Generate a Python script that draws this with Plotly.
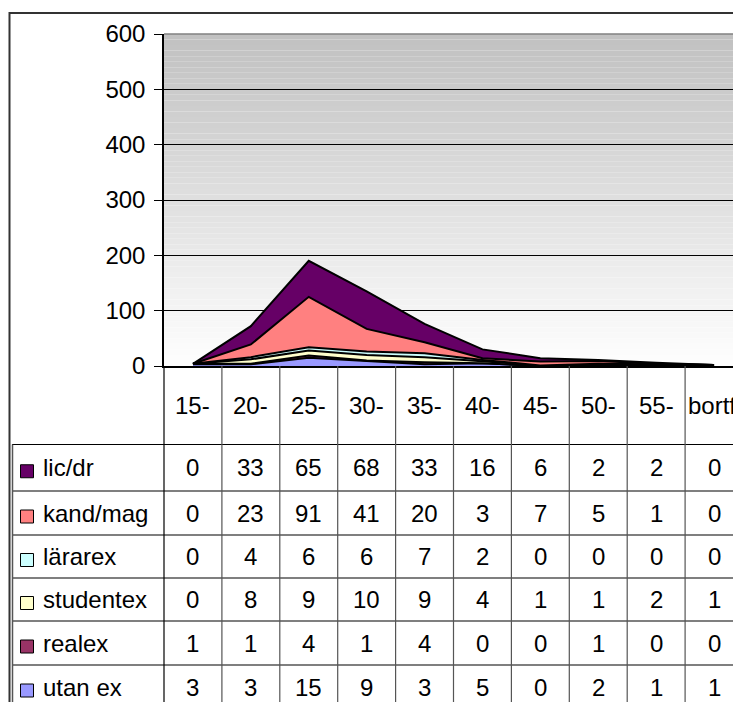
import plotly.graph_objects as go

categories = ["15-", "20-", "25-", "30-", "35-", "40-", "45-", "50-", "55-", "bortf"]

# table order (top to bottom)
series_names = ["lic/dr", "kand/mag", "lärarex", "studentex", "realex", "utan ex"]
lic_dr    = [0, 33, 65, 68, 33, 16, 6, 2, 2, 0]
kand_mag  = [0, 23, 91, 41, 20, 3, 7, 5, 1, 0]
lararex   = [0, 4, 6, 6, 7, 2, 0, 0, 0, 0]
studentex = [0, 8, 9, 10, 9, 4, 1, 1, 2, 1]
realex    = [1, 1, 4, 1, 4, 0, 0, 1, 0, 0]
utan_ex   = [3, 3, 15, 9, 3, 5, 0, 2, 1, 1]
series_values = [lic_dr, kand_mag, lararex, studentex, realex, utan_ex]
series_colors = ["#660066", "#FF8080", "#CCFFFF", "#FFFFCC", "#993366", "#9999FF"]

y_ticks = [0, 100, 200, 300, 400, 500, 600]

# page body has an 8px margin; figure is sized to fill the rest of the window
OFF = 8
W, H = 741 - OFF, 702 - OFF
def px(x):
    return (x - OFF) / W
def py(y):
    return 1 - (y - OFF) / H

FONT = "Liberation Sans, Arial, sans-serif"
FS = 24

plot_left, plot_top, plot_bottom = 164, 34, 366
right_edge = 741
colw = 57.9
xr0 = -0.5
xr1 = -0.5 + (right_edge - plot_left) / colw

fig = go.Figure()

# stacked areas: bottom series first
for name, vals, col in reversed(list(zip(series_names, series_values, series_colors))):
    fig.add_trace(go.Scatter(
        x=categories, y=vals, name=name, stackgroup="one", mode="lines",
        line=dict(color="black", width=2), fillcolor=col, hoverinfo="skip",
    ))

shapes = []
# gradient background in plot area
nb = 60
for i in range(nb):
    y0 = plot_top + (plot_bottom - plot_top) * i / nb
    y1 = plot_top + (plot_bottom - plot_top) * (i + 1) / nb
    t = (i + 0.5) / nb
    v = int(round(0xC0 + (0xFF - 0xC0) * t))
    c = f"rgb({v},{v},{v})"
    shapes.append(dict(type="rect", xref="paper", yref="paper",
                       x0=px(plot_left), x1=1, y0=py(y1), y1=py(y0),
                       fillcolor=c, line=dict(width=0), layer="below"))

# top border of plot area
shapes.append(dict(type="line", xref="paper", yref="paper", x0=px(plot_left), x1=1,
                   y0=py(plot_top), y1=py(plot_top), line=dict(color="#808080", width=1.5)))

# outer border
shapes.append(dict(type="rect", xref="paper", yref="paper", x0=px(9.5), x1=px(740),
                   y0=py(712), y1=py(13), line=dict(color="#333333", width=2)))

# table
row_lines = [444.5, 491, 535, 578, 621, 665]
row_bottom_ext = 709
for yl in row_lines:
    shapes.append(dict(type="line", xref="paper", yref="paper", x0=px(12), x1=1,
                       y0=py(yl), y1=py(yl), line=dict(color="black", width=1.2)))
# inner left border of table rows
shapes.append(dict(type="line", xref="paper", yref="paper", x0=px(12.5), x1=px(12.5),
                   y0=py(444.5), y1=py(712), line=dict(color="#555555", width=1.5)))
# vertical column lines
for i in range(len(categories) + 1):
    xp = plot_left + i * colw
    if xp > right_edge:
        continue
    shapes.append(dict(type="line", xref="paper", yref="paper", x0=px(xp), x1=px(xp),
                       y0=py(plot_bottom), y1=py(712),
                       line=dict(color="#555555" if i else "black", width=1.2)))

annotations = []
# header row
header_y = (plot_bottom + row_lines[0]) / 2
for k, c in enumerate(categories):
    last = k == len(categories) - 1
    annotations.append(dict(x=c, xref="x", y=py(header_y), yref="paper", text=c,
                            showarrow=False, xanchor="left" if last else "center",
                            xshift=-colw / 2 + 1 if last else 0, yanchor="middle",
                            font=dict(family=FONT, size=FS, color="black")))
row_edges = row_lines + [row_bottom_ext]
for r, (name, vals, col) in enumerate(zip(series_names, series_values, series_colors)):
    yc = (row_edges[r] + row_edges[r + 1]) / 2
    # legend key
    shapes.append(dict(type="rect", xref="paper", yref="paper",
                       x0=px(20.5), x1=px(33.5), y0=py(yc + 10), y1=py(yc - 3),
                       fillcolor=col, line=dict(color="black", width=1)))
    annotations.append(dict(x=px(41), xref="paper", y=py(yc), yref="paper", text=name,
                            showarrow=False, xanchor="left", yanchor="middle",
                            font=dict(family=FONT, size=FS, color="black")))
    for c, v in zip(categories, vals):
        annotations.append(dict(x=c, xref="x", y=py(yc), yref="paper", text=str(v),
                                showarrow=False, xanchor="center", yanchor="middle",
                                font=dict(family=FONT, size=FS, color="black")))

fig.update_layout(
    width=W, height=H,
    margin=dict(l=0, r=0, t=0, b=0, autoexpand=False),
    paper_bgcolor="white", plot_bgcolor="rgba(0,0,0,0)",
    showlegend=False,
    shapes=shapes, annotations=annotations,
    font=dict(family=FONT, size=FS, color="black"),
    xaxis=dict(domain=[px(plot_left), 1], range=[xr0, xr1], type="category",
               showticklabels=False, showgrid=False, zeroline=False,
               showline=True, linecolor="black", linewidth=1.5, ticks="", automargin=False,
               fixedrange=True),
    yaxis=dict(domain=[py(plot_bottom), py(plot_top)], range=[0, 600],
               tickvals=y_ticks, ticktext=[str(t) for t in y_ticks],
               showgrid=True, gridcolor="black", gridwidth=1, zeroline=False,
               showline=True, linecolor="black", linewidth=1.5,
               ticks="outside", ticklen=8, tickcolor="black", tickwidth=1.2,
               ticklabelstandoff=4, automargin=False,
               tickfont=dict(family=FONT, size=FS, color="black"), fixedrange=True),
)

fig.write_html("out.html")
